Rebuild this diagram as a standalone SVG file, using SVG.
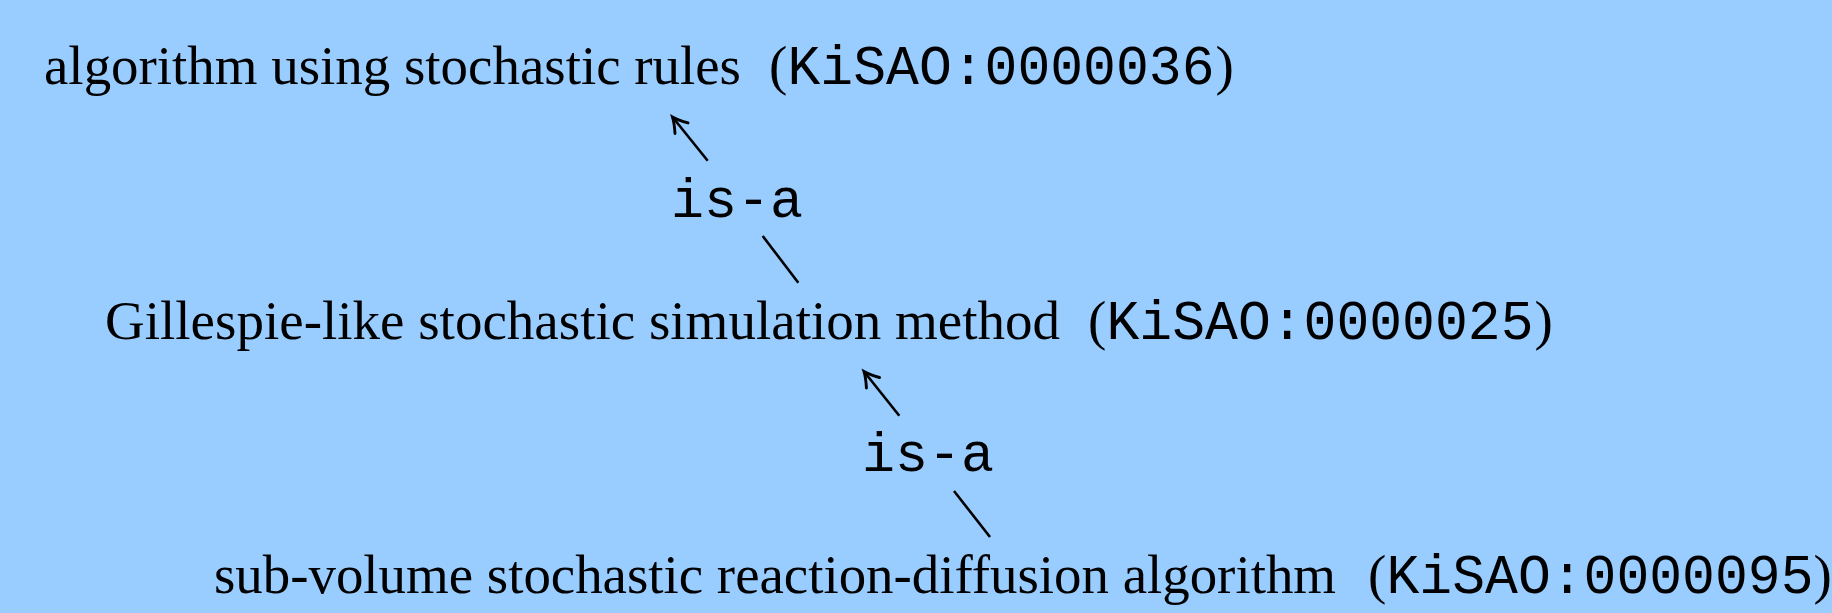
<svg xmlns="http://www.w3.org/2000/svg" width="1832" height="613" viewBox="0 0 1832 613">
  <style>
    .serif { font-family: "Liberation Serif", "Times New Roman", serif; font-size: 55px; fill: #000; }
    .mono { font-family: "Liberation Mono", "Courier New", monospace; font-size: 55px; fill: #000; }
    .edge { stroke: #000; stroke-width: 2.6; fill: none; stroke-linecap: butt; }
  </style>
  <defs>
    <marker id="arrow" markerUnits="userSpaceOnUse" markerWidth="24" markerHeight="24" viewBox="-14 -10 16 20" refX="0" refY="0" orient="auto">
      <path d="M -12 -7 Q -5 -2 0 0 Q -5 2 -12 7" stroke="#000" stroke-width="2.4" fill="none" stroke-linecap="round"/>
    </marker>
  </defs>
  <rect width="1832" height="613" fill="#99ccff"/>

  <g id="node-kisao36">
    <text class="serif" x="44" y="84" textLength="697" lengthAdjust="spacingAndGlyphs">algorithm using stochastic rules</text>
    <text class="serif" x="769" y="84">(</text>
    <text class="mono" x="787.5" y="84" textLength="427" lengthAdjust="spacingAndGlyphs">KiSAO:0000036</text>
    <text class="serif" x="1215.5" y="84">)</text>
  </g>

  <g id="node-kisao25">
    <text class="serif" x="105" y="339" textLength="955" lengthAdjust="spacingAndGlyphs">Gillespie-like stochastic simulation method</text>
    <text class="serif" x="1088" y="339">(</text>
    <text class="mono" x="1106.5" y="339" textLength="427" lengthAdjust="spacingAndGlyphs">KiSAO:0000025</text>
    <text class="serif" x="1534.5" y="339">)</text>
  </g>

  <g id="node-kisao95">
    <text class="serif" x="214" y="593" textLength="1122" lengthAdjust="spacingAndGlyphs">sub-volume stochastic reaction-diffusion algorithm</text>
    <text class="serif" x="1368" y="593">(</text>
    <text class="mono" x="1386.5" y="593" textLength="427" lengthAdjust="spacingAndGlyphs">KiSAO:0000095</text>
    <text class="serif" x="1813.5" y="593">)</text>
  </g>

  <g id="connectors">
    <g id="edge-25-36">
      <line class="edge" x1="798.3" y1="282.7" x2="762.7" y2="236"/>
      <text class="mono" x="671" y="217" textLength="132" lengthAdjust="spacingAndGlyphs">is-a</text>
      <line class="edge" x1="707.7" y1="160.7" x2="672.5" y2="117" marker-end="url(#arrow)"/>
    </g>
    <g id="edge-95-25">
      <line class="edge" x1="990" y1="537" x2="954" y2="491"/>
      <text class="mono" x="862" y="471" textLength="132" lengthAdjust="spacingAndGlyphs">is-a</text>
      <line class="edge" x1="899.3" y1="415.7" x2="864" y2="371.5" marker-end="url(#arrow)"/>
    </g>
  </g>
</svg>
